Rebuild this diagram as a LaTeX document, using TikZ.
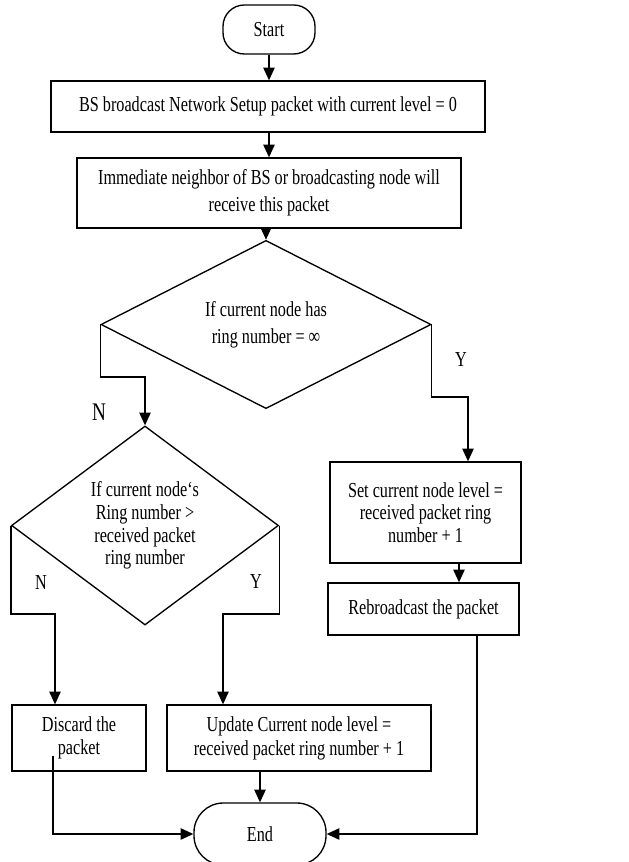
\documentclass[tikz,border=0pt]{standalone}
\usepackage{fontspec}
\setmainfont{Liberation Serif}[FakeStretch=0.76]
\usetikzlibrary{shapes.geometric,arrows.meta,calc}
\begin{document}
\begin{tikzpicture}[x=0.75pt,y=-0.75pt,
  line width=1pt,
  every node/.style={font=\fontsize{16}{17}\selectfont},
  box/.style={draw,rectangle,inner sep=0pt,align=center},
  term/.style={draw,rectangle,rounded corners=16pt,inner sep=0pt,align=center},
  dia/.style={draw,diamond,inner sep=0pt,align=center},
  arr/.style={-{Triangle[length=9.5pt,width=8.5pt]}},
  lbl/.style={inner sep=0pt}]
\useasboundingbox (0,0) rectangle (628,862);
\node[term,minimum width=69pt,minimum height=36.75pt] (start) at (269,29.5) {Start};
\node[box,minimum width=325.5pt,minimum height=38.25pt] (b1) at (268,106.5) {BS broadcast Network Setup packet with current level = 0};
\node[box,minimum width=288pt,minimum height=52.5pt,font=\fontsize{16}{20}\selectfont] (b2) at (269,193) {Immediate neighbor of BS or broadcasting node will\\receive this packet};
\node[dia,minimum width=247.5pt,minimum height=93.75pt,font=\fontsize{16}{20}\selectfont] (d1) at (266,324.5) {If current node has\\ring number = ∞};
\node[dia,minimum width=200.25pt,minimum height=149.25pt] (d2) at (145,525.5) {\rule{0pt}{6pt}If current node‘s\\Ring number >\\received packet\\ring number};
\node[box,minimum width=143.25pt,minimum height=75.75pt] (b3) at (425.5,512.5) {Set current node level =\\received packet ring\\number + 1};
\node[box,minimum width=143.25pt,minimum height=39pt] (b4) at (423.5,609) {Rebroadcast the packet};
\node[box,minimum width=100.5pt,minimum height=49.5pt] (discard) at (79,738) {Discard the\\packet};
\node[box,minimum width=198pt,minimum height=49.5pt,font=\fontsize{16}{18}\selectfont] (update) at (299,738) {Update Current node level =\\received packet ring number + 1};
\node[term,rounded corners=22pt,minimum width=99pt,minimum height=46.5pt] (end) at (260,834) {End};

\draw[arr] (start) -- (start|-b1.north);
\draw[arr] (b2|-b1.south) -- (b2.north);
\draw[arr] (d1|-b2.south) -- (d1.north);
\draw[arr] (d1.west) -- ++(0,52.5) -| (d2.north);
\draw[arr] (d1.east) -- ++(0,72.5) -| ($(b3.north)+(42.5,0)$);
\draw[arr] (d2.west) -- ++(0,88.5) -| ($(discard.north)+(-24,0)$);
\draw[arr] (d2.east) -- ++(0,88.5) -| ($(update.north)+(-76,0)$);
\draw[arr] ($(b3.south)+(33.5,0)$) coordinate (t1) -- (t1|-b4.north);
\draw[arr] ($(b4.south)+(53.5,0)$) |- (end.east);
\draw[arr] (end|-update.south) -- (end.north);
\draw[arr] ($(discard.south)+(-26,-16)$) |- (end.west);

\node[lbl,font=\fontsize{19}{19}\selectfont] (n1) at (99,412) {N};
\node[lbl] (y1) at (461,360) {Y};
\node[lbl] (n2) at (41,583) {N};
\node[lbl] (y2) at (256,582) {Y};
\end{tikzpicture}
\end{document}
